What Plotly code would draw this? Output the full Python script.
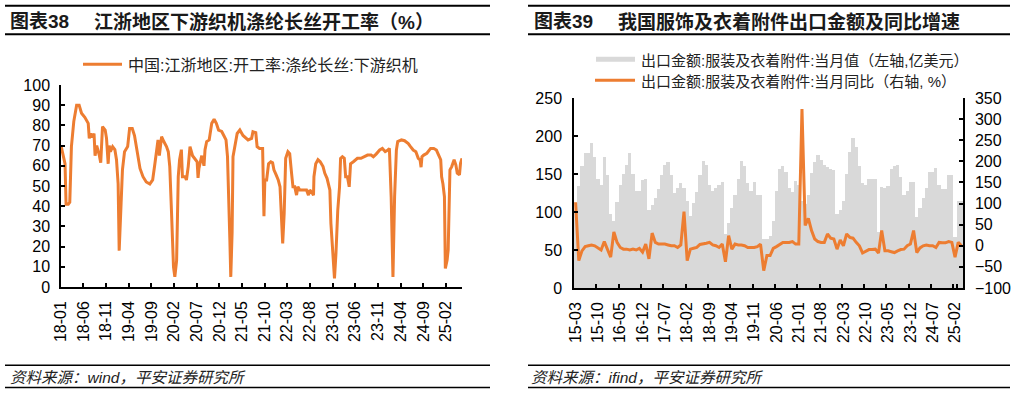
import plotly.graph_objects as go
import pandas as pd

W, H = 1017, 394
ORANGE = "#ED7D31"
GREY = "#D9D9D9"
INK = "#1a1a1a"
LAT = "Liberation Sans, Arial, Noto Sans CJK SC"

# ---------------- Left chart: weekly operating rate (%) ----------------
left_dates = [
    "2018-01-01", "2018-01-16", "2018-01-28", "2018-02-04", "2018-02-19", "2018-03-01", "2018-03-12",
    "2018-03-28", "2018-04-16", "2018-05-03", "2018-05-19", "2018-06-10", "2018-07-03", "2018-07-10",
    "2018-07-19", "2018-07-30", "2018-08-11", "2018-08-18", "2018-08-29", "2018-09-16", "2018-09-25",
    "2018-10-07", "2018-10-25", "2018-11-03", "2018-11-14", "2018-11-21", "2018-11-29", "2018-12-14",
    "2018-12-29", "2019-01-09", "2019-01-20", "2019-01-27", "2019-02-07", "2019-02-18", "2019-03-04",
    "2019-03-25", "2019-04-07", "2019-04-25", "2019-05-10", "2019-05-22", "2019-06-04", "2019-06-16",
    "2019-07-06", "2019-07-28", "2019-08-21", "2019-09-09", "2019-09-24", "2019-10-06", "2019-10-15",
    "2019-10-24", "2019-11-02", "2019-11-08", "2019-11-23", "2019-12-11", "2019-12-23",
    "2020-01-02", "2020-01-14", "2020-01-27", "2020-02-05", "2020-02-17", "2020-02-28", "2020-03-08",
    "2020-03-20", "2020-03-27", "2020-04-14", "2020-04-23", "2020-05-05", "2020-05-17", "2020-06-03",
    "2020-06-19", "2020-07-04", "2020-07-10", "2020-07-16", "2020-08-04", "2020-08-19", "2020-08-26",
    "2020-09-06", "2020-09-23", "2020-10-10", "2020-10-26", "2020-11-10", "2020-11-25", "2020-12-16",
    "2020-12-30", "2021-01-14", "2021-01-24", "2021-02-01", "2021-02-09", "2021-02-15", "2021-02-24",
    "2021-03-02", "2021-03-14", "2021-03-30", "2021-04-17", "2021-05-08", "2021-06-11", "2021-07-05",
    "2021-07-14", "2021-08-02", "2021-08-11", "2021-08-27", "2021-09-17", "2021-09-26", "2021-10-02",
    "2021-10-14", "2021-10-27", "2021-11-11", "2021-11-23", "2021-12-02", "2021-12-17",
    "2021-12-31", "2022-01-12", "2022-01-22", "2022-01-30", "2022-02-09", "2022-02-15", "2022-02-19",
    "2022-03-06", "2022-03-18", "2022-03-31", "2022-04-09", "2022-04-21", "2022-05-03", "2022-05-12",
    "2022-05-25", "2022-06-15", "2022-07-09", "2022-07-22", "2022-07-31", "2022-08-12", "2022-08-25",
    "2022-08-28", "2022-09-09", "2022-09-24", "2022-10-09", "2022-10-28", "2022-11-09", "2022-11-24",
    "2022-12-06", "2022-12-13", "2022-12-20", "2023-01-01", "2023-01-13", "2023-01-23", "2023-02-04",
    "2023-02-16", "2023-02-23", "2023-03-07", "2023-03-20", "2023-03-29", "2023-04-10", "2023-04-22",
    "2023-05-01", "2023-05-20", "2023-06-01", "2023-06-16", "2023-07-10", "2023-08-01", "2023-08-23",
    "2023-09-16", "2023-10-01", "2023-10-20", "2023-11-13", "2023-12-01",
    "2023-12-20", "2024-01-07", "2024-01-17", "2024-01-29", "2024-02-10", "2024-02-21", "2024-03-04",
    "2024-03-13", "2024-04-07", "2024-04-28", "2024-05-23", "2024-06-07", "2024-06-25", "2024-07-13",
    "2024-07-29", "2024-08-10", "2024-08-17", "2024-08-23", "2024-09-04", "2024-09-25", "2024-10-20",
    "2024-11-10", "2024-11-28", "2024-12-13",
    "2024-12-27", "2025-01-02", "2025-01-11", "2025-01-21", "2025-01-27", "2025-02-08", "2025-02-15",
    "2025-02-24", "2025-02-27", "2025-03-11", "2025-03-27", "2025-04-08", "2025-04-17", "2025-05-02",
    "2025-05-09", "2025-05-19",
]
left_rate = [
    70, 64.5, 61, 41, 41, 42, 69.5,
    82, 90, 90, 86, 84, 81, 73.6,
    76, 74, 76, 65, 70, 65, 61.5,
    79.4, 77.7, 73.6, 61, 70, 67, 69.5,
    68, 63, 51, 18, 40, 58, 67,
    69.5, 78.5, 78.5, 75, 70, 63, 58.7,
    54.6, 52, 51, 53, 61, 69.5, 72.8,
    65, 71, 74.4, 72, 69.5, 67,
    59.6, 36.5, 10, 5, 13, 54.6, 63,
    68, 54.6, 54.6, 53, 59.6, 69.5, 65,
    63.7, 62, 54, 58.7, 65, 60, 68,
    72, 72.8, 81, 83, 81, 77.7, 77,
    75, 72.8, 64.5, 48, 23, 5, 27,
    64.5, 69.5, 76, 77.7, 75, 72.8, 73.6,
    76.9, 76.4, 69.5, 68.6, 68.6, 35, 53,
    53, 61, 62, 61.5, 58, 55.5,
    53, 49.6, 36.5, 21.6, 36.5, 53, 63.7,
    67, 66, 56, 49.6, 49.6, 45.5, 49.6,
    48, 48, 48, 45.5, 48, 47, 45.5,
    54.6, 61, 63, 62, 59.6, 56.3, 53.8,
    49.6, 48, 31.5, 16.7, 4.3, 16.7, 38,
    49.6, 63.7, 64.5, 63.7, 54.6, 54.6, 49.6,
    61, 62, 63, 63.7, 63.7, 64.5, 65.3,
    65.3, 64.5, 65.8, 67.8, 68.6,
    67, 67.8, 68.6, 44.7, 5, 44.7, 67.8,
    72, 72.8, 72.4, 71, 69.5, 67.8, 67,
    63.7, 63, 59.3, 64.5, 65.3, 66.2, 68.6,
    68.6, 67.8, 65.3,
    63, 54.6, 51, 44.7, 9.2, 13.4, 18.3,
    48, 58, 59.6, 63, 60.4, 56.3, 55.5,
    61.2, 63.7,
]
left_tick_dates = [
    "2018-01-01", "2018-06-01", "2018-11-01", "2019-04-01", "2019-09-01", "2020-02-01",
    "2020-07-01", "2020-12-01", "2021-05-01", "2021-10-01", "2022-03-01", "2022-08-01",
    "2023-01-01", "2023-06-01", "2023-11-01", "2024-04-01", "2024-09-01", "2025-02-01",
]
left_tick_labels = [
    "18-01", "18-06", "18-11", "19-04", "19-09", "20-02", "20-07", "20-12", "21-05",
    "21-10", "22-03", "22-08", "23-01", "23-06", "23-11", "24-04", "24-09", "25-02",
]

# ---------------- Right chart: monthly apparel exports ----------------
months = pd.date_range("2015-03-01", "2025-04-01", freq="MS").strftime("%y-%m").tolist()
export_value = [  # 亿美元
    103, 134, 160, 177, 177, 191, 173, 144, 135, 173,
    149, 97, 88, 113, 135, 150, 162, 177, 150, 128, 127, 142,
    144, 102, 109, 118, 130, 149, 162, 166, 149, 125, 132, 138,
    131, 114, 95, 112, 126, 149, 167, 162, 136, 128, 132, 136,
    140, 71, 85, 105, 122, 144, 167, 160, 138, 127, 139, 122,
    122, 65, 65, 68, 88, 128, 157, 161, 153, 132, 126, 141,
    136, 115, 111, 122, 151, 166, 175, 168, 162, 159, 156, 155,
    98, 103, 114, 150, 179, 197, 186, 160, 138, 136, 144, 143,
    143, 74, 133, 132, 134, 157, 161, 162, 146, 122, 127, 140,
    140, 94, 105, 118, 132, 152, 152, 158, 136, 130, 130, 149,
    149, 67, 114, 114,
]
export_yoy = [  # %
    103, -35, -12, -2, 0, 2, 0, -5, -10, 10,
    -8, -27, 33, 8, -4, -8, -8, -10, -8, -10, -6, -15,
    4, -31, 30, 8, 4, 4, 4, 2, 0, 0, -4, 2,
    81, -35, -8, -6, -4, 3, 4, 6, 8, 2, 0, -4,
    4, -38, 24, -8, 4, 2, 2, 0, -4, -4, -4, -2,
    4, -59, -23, -23, -6, -2, 2, 8, 8, 8, 10, 4,
    4, 324, 48, 65, 36, 16, 10, 8, 8, 28, 18, 16,
    -8, 14, 0, 28, 20, 18, 8, 0, -17, -12, -9, -9,
    -8, -17, 36, -12, -12, -14, -16, -12, -9, -8, 0, 4,
    36, -16, -5, 0, 2, 0, 0, -4, 8, 7, 7, 10,
    8, -27, 8, 0,
]
right_tick_labels = [
    "15-03", "15-10", "16-05", "16-12", "17-07", "18-02", "18-09", "19-04", "19-11",
    "20-06", "21-01", "21-08", "22-03", "22-10", "23-05", "23-12", "24-07", "25-02",
]


def px(x):
    return x / W


def py(y):
    return 1 - y / H


fig = go.Figure()
fig.add_trace(go.Scatter(
    x=left_dates, y=left_rate, mode="lines", name="中国:江浙地区:开工率:涤纶长丝:下游织机",
    line=dict(color=ORANGE, width=3), xaxis="x", yaxis="y", showlegend=False))
fig.add_trace(go.Bar(
    x=months, y=export_value, name="出口金额:服装及衣着附件:当月值（左轴,亿美元）",
    marker=dict(color=GREY, line=dict(width=0)), xaxis="x2", yaxis="y2", showlegend=False))
fig.add_trace(go.Scatter(
    x=months, y=export_yoy, mode="lines", name="出口金额:服装及衣着附件:当月同比（右轴, %）",
    line=dict(color=ORANGE, width=3), xaxis="x2", yaxis="y3", showlegend=False))

axis_common = dict(showgrid=False, zeroline=False, showline=True, linecolor="#000", linewidth=1.5,
                   ticks="inside", ticklen=4, tickwidth=1.5, tickcolor="#000", automargin=False,
                   tickfont=dict(family=LAT, size=16, color="#000"))

fig.update_layout(
    width=W, height=H, margin=dict(l=0, r=0, t=0, b=0, pad=0, autoexpand=False),
    paper_bgcolor="white", plot_bgcolor="white", bargap=0,
    xaxis=dict(domain=[px(61), px(462)], anchor="y", type="date",
               range=["2018-01-01", "2025-05-19"], tickmode="array",
               tickvals=left_tick_dates, ticktext=left_tick_labels, tickangle=-90,
               ticklabelstandoff=6, **axis_common),
    yaxis=dict(domain=[py(287), py(85)], anchor="x", range=[0, 100], dtick=10,
               ticklabelstandoff=6, **axis_common),
    xaxis2=dict(domain=[px(574), px(963)], anchor="y2", type="category",
                tickmode="array", tickvals=right_tick_labels, ticktext=right_tick_labels,
                tickson="boundaries", tickangle=-90, ticklabelstandoff=6, **axis_common),
    yaxis2=dict(domain=[py(288), py(98)], anchor="x2", range=[0, 250], dtick=50,
                ticklabelstandoff=7, **axis_common),
    yaxis3=dict(overlaying="y2", anchor="x2", side="right", range=[-100, 350], dtick=50,
                ticklabelstandoff=7, **axis_common),
)

shapes = []
for (x0, x1) in [(5, 490), (528, 1010)]:
    for yy in (5.7, 34.2):
        shapes.append(dict(type="line", xref="paper", yref="paper", x0=px(x0), x1=px(x1),
                           y0=py(yy), y1=py(yy), line=dict(color="#000", width=2)))
    for yy in (365.3, 387.5):
        shapes.append(dict(type="line", xref="paper", yref="paper", x0=px(x0), x1=px(x1),
                           y0=py(yy), y1=py(yy), line=dict(color="#000", width=1.5)))
# legend samples
shapes.append(dict(type="line", xref="paper", yref="paper", x0=px(83), x1=px(122),
                   y0=py(64.3), y1=py(64.3), line=dict(color=ORANGE, width=3)))
shapes.append(dict(type="rect", xref="paper", yref="paper", x0=px(596), x1=px(635),
                   y0=py(61.8), y1=py(56.8), fillcolor=GREY, line=dict(width=0)))
shapes.append(dict(type="line", xref="paper", yref="paper", x0=px(595), x1=px(635),
                   y0=py(80.2), y1=py(80.2), line=dict(color=ORANGE, width=3)))

ann = []


def text(x, y, s, size, bold=False, italic=False, color=INK):
    if bold:
        s = "<b>" + s + "</b>"
    if italic:
        s = "<i>" + s + "</i>"
    ann.append(dict(x=px(x), y=py(y), xref="paper", yref="paper", text=s, showarrow=False,
                    xanchor="left", yanchor="middle", font=dict(family=LAT, size=size, color=color)))


text(8, 21.5, "图表38", 19, bold=True)
text(92, 21.5, "江浙地区下游织机涤纶长丝开工率（%）", 19, bold=True)
text(532, 21.5, "图表39", 19, bold=True)
text(616, 21.5, "我国服饰及衣着附件出口金额及同比增速", 19, bold=True)
text(126, 65, "中国:江浙地区:开工率:涤纶长丝:下游织机", 16, color="#222")
text(639, 60, "出口金额:服装及衣着附件:当月值（左轴,亿美元）", 15, color="#222")
text(639, 81, "出口金额:服装及衣着附件:当月同比（右轴, %）", 15, color="#222")
text(8, 377.5, "资料来源：wind，平安证券研究所", 15.5, italic=True, color="#222")
text(529, 377.5, "资料来源：ifind，平安证券研究所", 15.5, italic=True, color="#222")

fig.update_layout(shapes=shapes, annotations=ann)
fig.write_html("out.html", config={"displayModeBar": False},
               post_script="document.body.style.margin='0';document.body.style.overflow='hidden';")
